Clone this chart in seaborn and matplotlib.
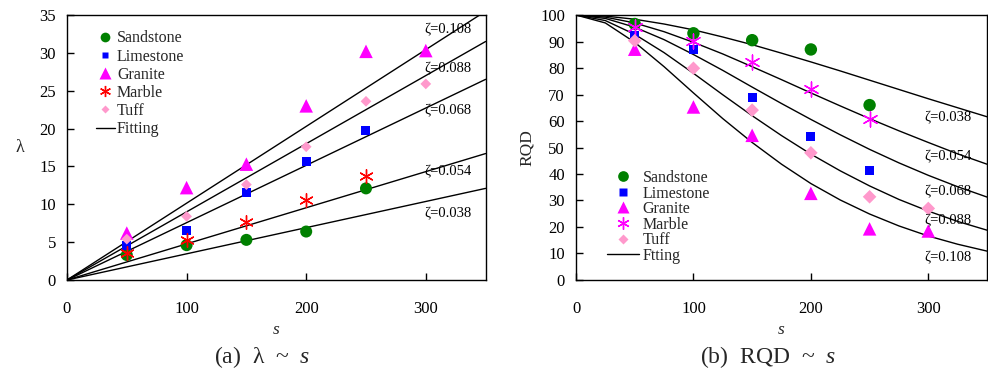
import matplotlib
matplotlib.use("Agg")
import matplotlib.pyplot as plt
from matplotlib.lines import Line2D
import pandas as pd
import seaborn as sns

# ---------------- data ----------------
s_pts = [50, 100, 150, 200, 250, 300]

# panel (a): lambda vs s
lam_sandstone = [3.3, 4.6, 5.3, 6.4, 12.1]
lam_limestone = [4.6, 6.5, 11.5, 15.7, 19.8]
lam_granite = [6.2, 12.2, 15.3, 23.0, 30.2, 30.3]
lam_marble = [3.6, 5.3, 7.7, 10.5, 13.7]
lam_tuff = [5.4, 8.4, 12.6, 17.6, 23.6, 25.9]

# panel (b): RQD vs s
rqd_sandstone = [96.6, 93.1, 90.5, 87.0, 66.0]
rqd_limestone = [92.4, 87.0, 68.8, 54.2, 41.5]
rqd_granite = [87.1, 65.3, 54.6, 32.7, 19.3, 18.5]
rqd_marble = [95.3, 90.2, 82.1, 72.0, 60.6]
rqd_tuff = [90.3, 79.9, 64.1, 48.0, 31.4, 27.0]

rock_names = ["Sandstone", "Limestone", "Granite", "Marble", "Tuff"]
zeta_labels = ["ζ=0.038", "ζ=0.054", "ζ=0.068", "ζ=0.088", "ζ=0.108"]

# fitting lines, panel (a): straight lines from the origin
fit_s = [0, 350]
lam_fit_038 = [0, 12.1]
lam_fit_054 = [0, 16.7]
lam_fit_068 = [0, 26.5]
lam_fit_088 = [0, 31.5]
lam_fit_108 = [0, 35.5]

# fitting curves, panel (b)
curve_s = [0, 25, 50, 75, 100, 125, 150, 175, 200, 225, 250, 275, 300, 325, 350]
rqd_fit_038 = [100, 99.6, 98.4, 96.6, 94.4, 91.7, 88.8, 85.6, 82.3, 78.9, 75.4, 71.9, 68.4, 65.0, 61.6]
rqd_fit_054 = [100, 99.2, 97.0, 93.7, 89.7, 85.3, 80.5, 75.6, 70.6, 65.7, 60.9, 56.3, 51.9, 47.6, 43.7]
rqd_fit_068 = [100, 98.7, 95.4, 90.7, 85.1, 79.1, 72.8, 66.6, 60.6, 54.8, 49.3, 44.2, 39.5, 35.2, 31.3]
rqd_fit_088 = [100, 97.9, 92.7, 85.8, 78.0, 69.9, 62.0, 54.5, 47.5, 41.2, 35.5, 30.4, 26.0, 22.1, 18.8]
rqd_fit_108 = [100, 97.0, 89.7, 80.5, 70.6, 60.9, 51.9, 43.7, 36.4, 30.2, 24.9, 20.4, 16.6, 13.5, 10.9]

# ---------------- style ----------------
sns.set_theme(style="ticks")
plt.rcParams["font.family"] = ["Liberation Serif", "DejaVu Serif"]
plt.rcParams["mathtext.fontset"] = "custom"
plt.rcParams["mathtext.rm"] = "Liberation Serif"
plt.rcParams["mathtext.it"] = "Liberation Serif:italic"
plt.rcParams["axes.edgecolor"] = "black"
plt.rcParams["axes.linewidth"] = 1.0

fig = plt.figure(figsize=(9.88, 3.77), dpi=100)
ax1 = fig.add_axes([0.0678, 0.2573, 0.4237, 0.7029])
ax2 = fig.add_axes([0.583, 0.2573, 0.416, 0.7029])

ASTER = (6, 2, 0)


def scatter(ax, x, y, marker, color, size, lw=0.0):
    df = pd.DataFrame({"s": x, "v": y})
    if marker == ASTER:
        sns.scatterplot(data=df, x="s", y="v", ax=ax, marker=marker, s=size,
                        color=color, edgecolor=color, linewidth=lw, zorder=3)
    else:
        sns.scatterplot(data=df, x="s", y="v", ax=ax, marker=marker, s=size,
                        color=color, edgecolor="none", linewidth=0, zorder=3)


def fitline(ax, x, y):
    df = pd.DataFrame({"s": x, "v": y})
    sns.lineplot(data=df, x="s", y="v", ax=ax, color="black", lw=1.0,
                 estimator=None, sort=False, zorder=2)


# ---- panel (a) ----
for yv in [lam_fit_038, lam_fit_054, lam_fit_068, lam_fit_088, lam_fit_108]:
    fitline(ax1, fit_s, yv)
scatter(ax1, s_pts[:5], lam_sandstone, "o", "#008000", 75)
scatter(ax1, s_pts[:5], lam_limestone, "s", "#0000FF", 42)
scatter(ax1, s_pts, lam_granite, "^", "#FF00FF", 95)
scatter(ax1, s_pts[:5], lam_marble, ASTER, "#FF0000", 95, lw=1.0)
scatter(ax1, s_pts, lam_tuff, "D", "#FF99CC", 30)

for lab, yy in zip(zeta_labels, [8.75, 14.3, 22.3, 27.9, 33.0]):
    ax1.text(299, yy, lab, fontsize=10.5, ha="left", va="center", color="black")

ax1.set_xlim(0, 350)
ax1.set_ylim(0, 35)
ax1.set_xticks([0, 100, 200, 300])
ax1.set_yticks(range(0, 36, 5))

# ---- panel (b) ----
for yv in [rqd_fit_038, rqd_fit_054, rqd_fit_068, rqd_fit_088, rqd_fit_108]:
    fitline(ax2, curve_s, yv)
scatter(ax2, s_pts[:5], rqd_sandstone, "o", "#008000", 80)
scatter(ax2, s_pts[:5], rqd_limestone, "s", "#0000FF", 42)
scatter(ax2, s_pts, rqd_granite, "^", "#FF00FF", 95)
scatter(ax2, s_pts[:5], rqd_marble, ASTER, "#FF00FF", 115, lw=1.0)
scatter(ax2, s_pts, rqd_tuff, "D", "#FF99CC", 48)

for lab, yy in zip(zeta_labels, [61.2, 46.7, 33.2, 22.3, 8.4]):
    ax2.text(297, yy, lab, fontsize=10.5, ha="left", va="center", color="black")

ax2.set_xlim(0, 350)
ax2.set_ylim(0, 100)
ax2.set_xticks([0, 100, 200, 300])
ax2.set_yticks(range(0, 101, 10))

# ---- common axis styling ----
for ax in (ax1, ax2):
    for sp in ax.spines.values():
        sp.set_visible(True)
        sp.set_color("black")
        sp.set_linewidth(1.0)
    ax.tick_params(axis="both", direction="in", length=5, width=1.0,
                   colors="black", labelsize=12)
    ax.tick_params(axis="x", pad=15)
    ax.tick_params(axis="y", pad=8)
    ax.set_xlabel("s", fontsize=12.5, fontstyle="italic")
    ax.xaxis.set_label_coords(0.5, -0.19)
    ax.xaxis.label.set_va("center")
    ax.grid(False)

ax1.set_ylabel("λ", fontsize=13, rotation=0)
ax1.yaxis.set_label_coords(-0.112, 0.5)
ax1.yaxis.label.set_va("center")
ax2.set_ylabel("RQD", fontsize=12.5, rotation=90)
ax2.yaxis.set_label_coords(-0.119, 0.5)
ax2.yaxis.label.set_va("center")

# ---- legends ----
def handles(marble_color, scale):
    return [
        Line2D([], [], ls="none", marker="o", color="#008000", ms=7 * scale, mec="none"),
        Line2D([], [], ls="none", marker="s", color="#0000FF", ms=5 * scale, mec="none"),
        Line2D([], [], ls="none", marker="^", color="#FF00FF", ms=8 * scale, mec="none"),
        Line2D([], [], ls="none", marker=ASTER, color=marble_color, ms=8 * scale, mew=1.0),
        Line2D([], [], ls="none", marker="D", color="#FF99CC", ms=4.5 * scale, mec="none"),
        Line2D([], [], ls="-", color="black", lw=1.0),
    ]

leg1 = ax1.legend(handles("#FF0000", 1.0), rock_names + ["Fitting"],
                  loc="upper left", bbox_to_anchor=(0.070, 0.942), frameon=False,
                  fontsize=11.5, handlelength=1.15, handletextpad=0.15,
                  labelspacing=0.135, borderpad=0, borderaxespad=0)
leg2 = ax2.legend(handles("#FF00FF", 1.1), rock_names + ["Ftting"],
                  loc="upper left", bbox_to_anchor=(0.075, 0.415), frameon=False,
                  fontsize=11.5, handlelength=2.0, handletextpad=0.25,
                  labelspacing=-0.03, borderpad=0, borderaxespad=0)

# ---- captions ----
fig.text(0.265, 0.053, "(a)  λ  ~  $s$", ha="center", va="center", fontsize=17)
fig.text(0.777, 0.053, "(b)  RQD  ~  $s$", ha="center", va="center", fontsize=17)

fig.savefig("out.png", dpi=100, facecolor="white")
